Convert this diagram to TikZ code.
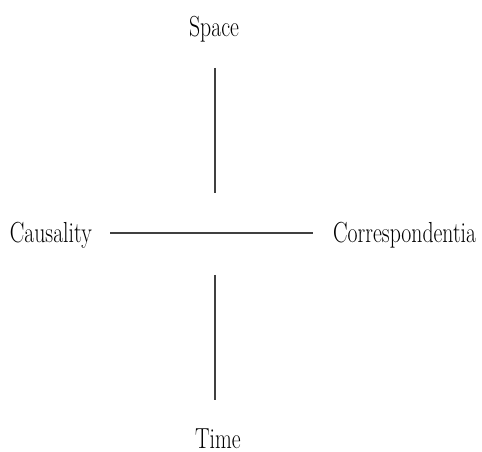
\documentclass[tikz,border=0pt]{standalone}
\usepackage{graphicx}

% narrow the labels, as in the reference
\newcommand{\axislabel}[1]{\scalebox{0.75}[1]{#1}}

\begin{document}
\begin{tikzpicture}[
	x=1pt, y=1pt,
	% Define the style for the labels and the axes
	every node/.style={inner sep=0pt, font=\fontsize{29}{33}\selectfont},
	axis/.style={line width=1.3pt, black!75}
	]
	
	\useasboundingbox (0,0) rectangle (482,452);
	
	% --- LABELS ---
	\coordinate (hub) at (215,219);
	
	\node (space) at (214,415) [anchor=base] {\axislabel{Space}};
	\node (time) at (218,3) [anchor=base] {\axislabel{Time}};
	\node (causality) at (92,209) [anchor=base east] {\axislabel{Causality}};
	\node (corresp) at (333,209) [anchor=base west] {\axislabel{Correspondentia}};
	
	% --- AXES ---
	\draw[axis, shorten <=25pt, shorten >=40pt] (space.south -| hub) -- (hub); % Upper arm
	\draw[axis, shorten <=42pt, shorten >=29.5pt] (hub) -- (time.north -| hub); % Lower arm
	\draw[axis, shorten <=18pt, shorten >=20pt] (causality.east |- hub) -- (corresp.west |- hub); % Cross bar
	
\end{tikzpicture}
\end{document}
